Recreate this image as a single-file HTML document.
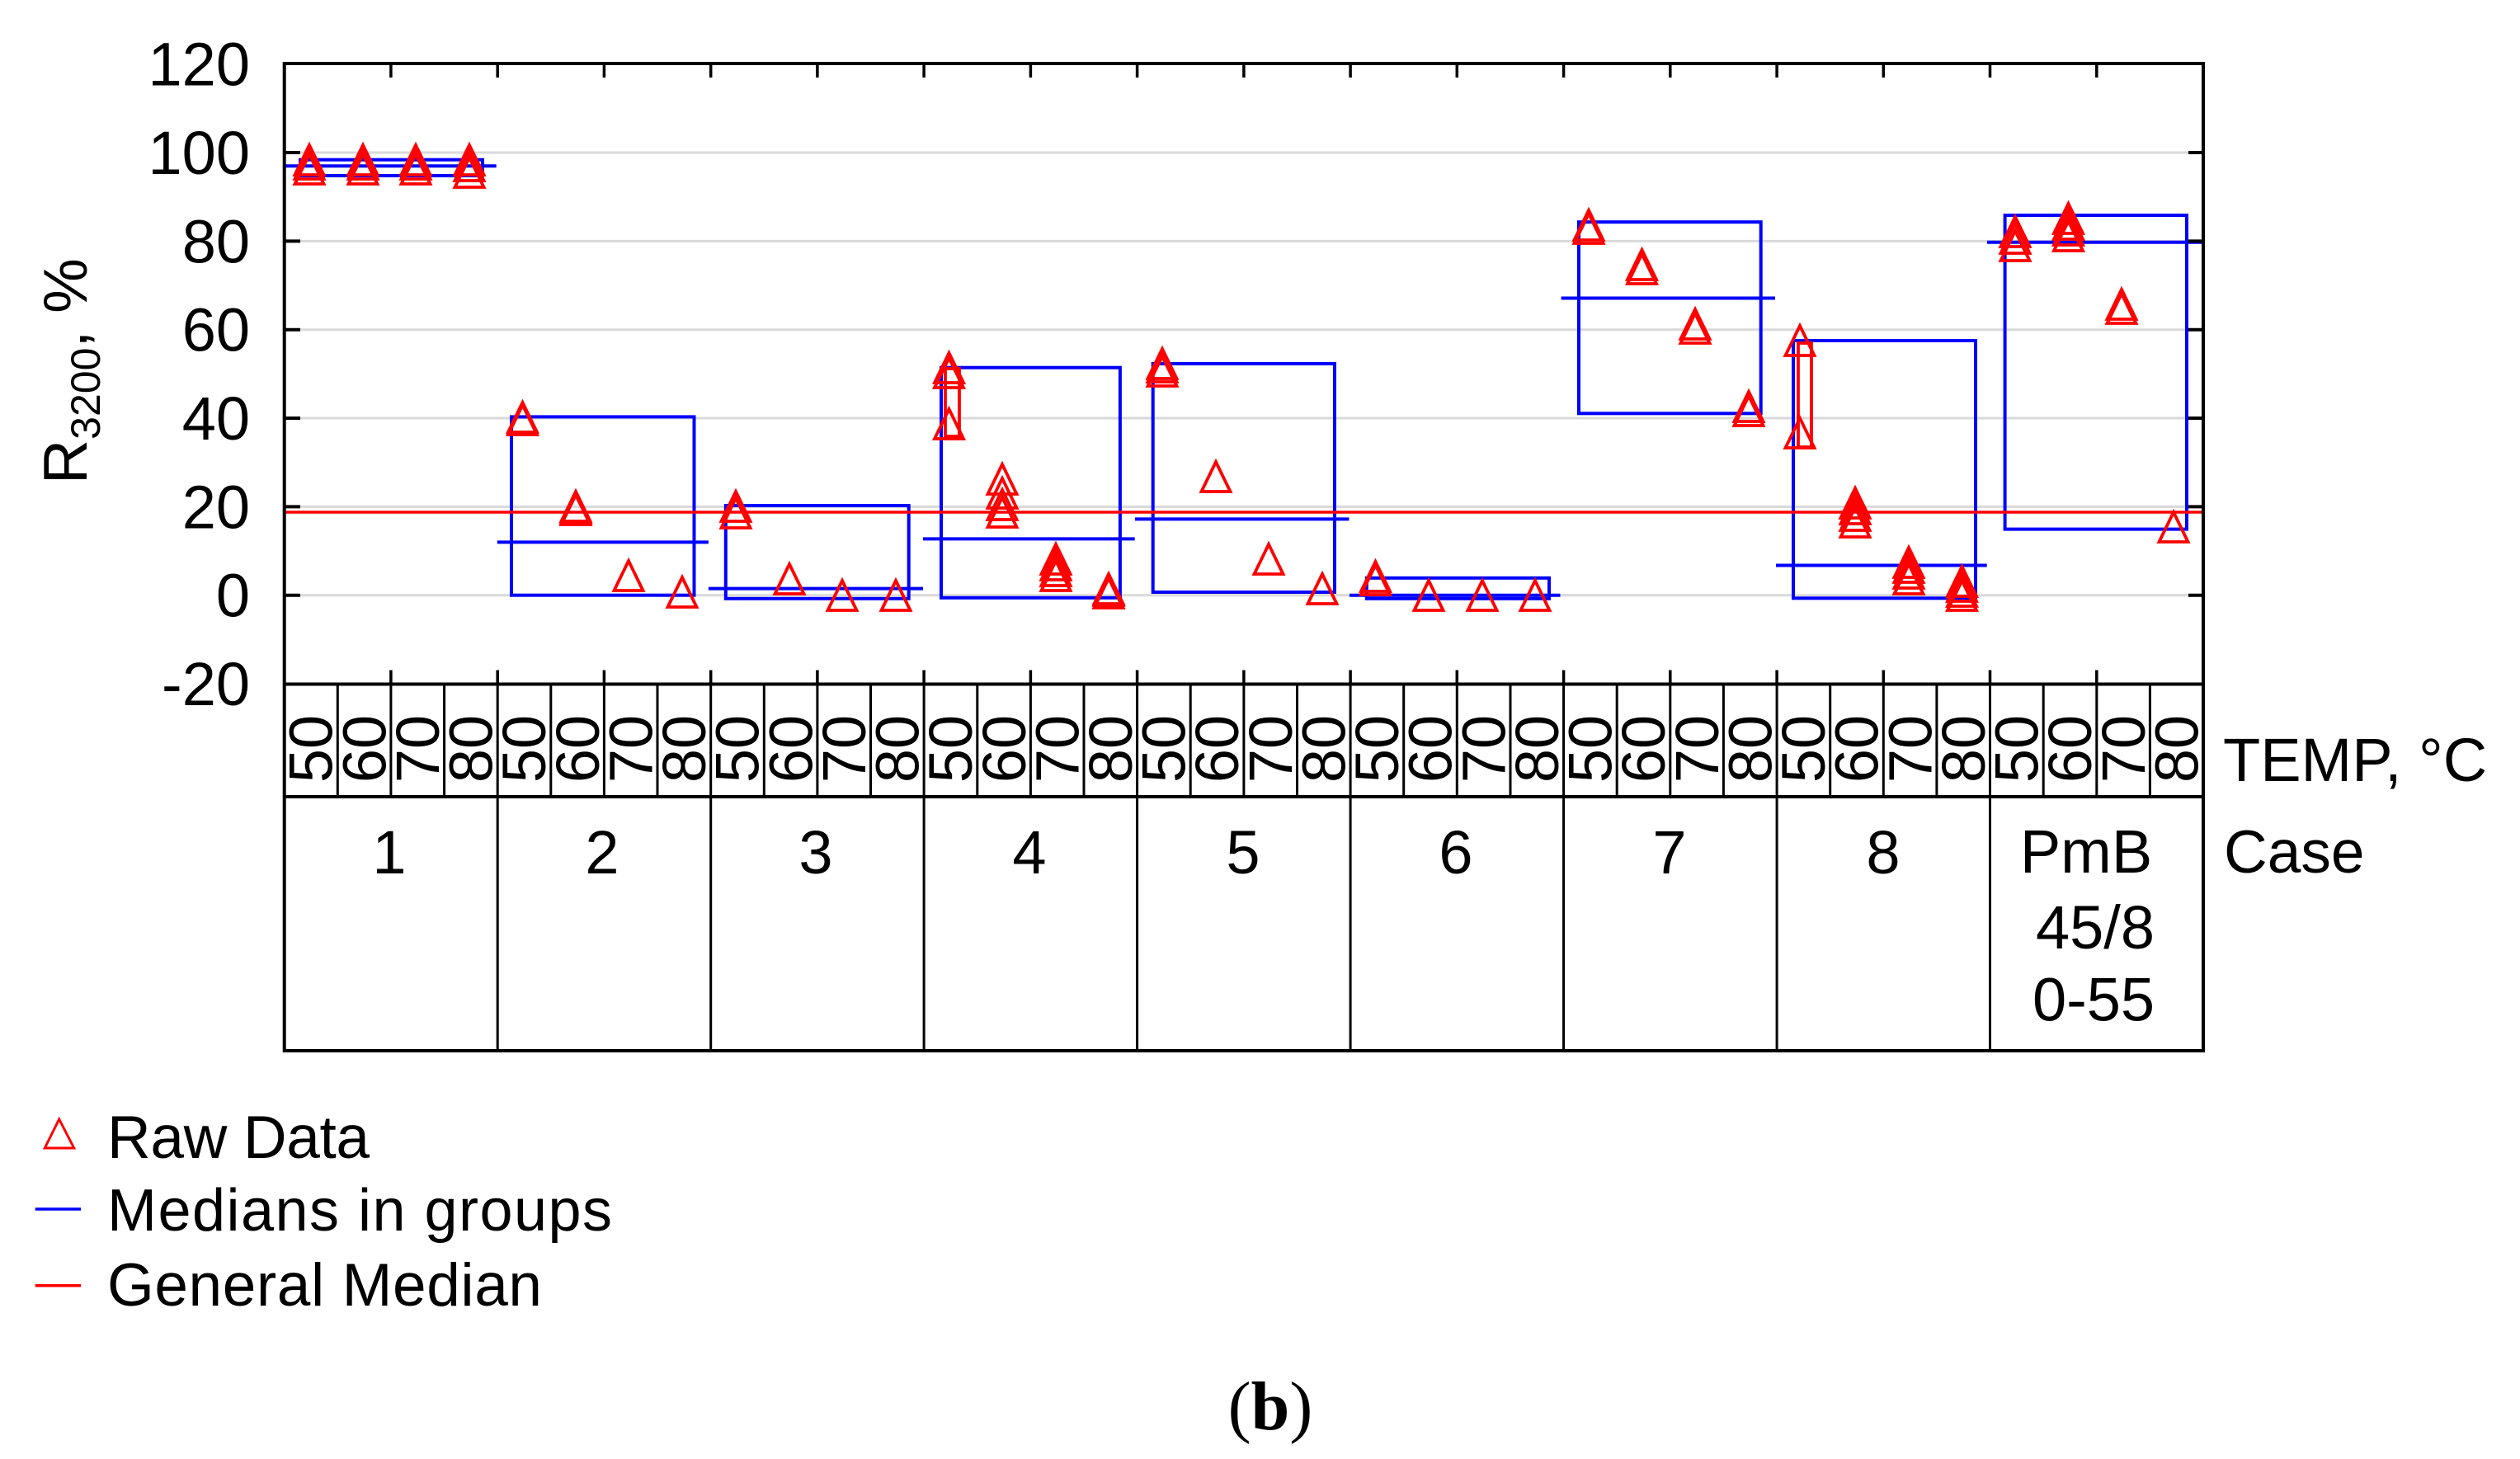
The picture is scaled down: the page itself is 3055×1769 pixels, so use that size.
<!DOCTYPE html>
<html>
<head>
<meta charset="utf-8">
<style>
html,body{margin:0;padding:0;background:#fff;}
svg{display:block;}
text{font-family:"Liberation Sans",Arial,sans-serif;fill:#000;}
</style>
</head>
<body>
<svg width="3055" height="1769" viewBox="0 0 3055 1769" xmlns="http://www.w3.org/2000/svg">
<rect x="0" y="0" width="3055" height="1769" fill="#fff"/>

<!-- gridlines -->
<g stroke="#d9d9d9" stroke-width="3">
<line x1="345" y1="185" x2="2670" y2="185"/>
<line x1="345" y1="292.4" x2="2670" y2="292.4"/>
<line x1="345" y1="399.7" x2="2670" y2="399.7"/>
<line x1="345" y1="507" x2="2670" y2="507"/>
<line x1="345" y1="614.4" x2="2670" y2="614.4"/>
<line x1="345" y1="721.7" x2="2670" y2="721.7"/>
</g>

<!-- group boxes -->
<g stroke="#0000ff" stroke-width="4" fill="none">
<rect x="364" y="193.7" width="221" height="19.3"/>
<rect x="620" y="505.4" width="221.5" height="216.3"/>
<rect x="879.8" y="613" width="221.9" height="112.8"/>
<rect x="1141" y="445.7" width="216.9" height="279.1"/>
<rect x="1397.7" y="441" width="220.3" height="277"/>
<rect x="1656.8" y="700.8" width="221.2" height="25"/>
<rect x="1914" y="269.2" width="220.7" height="232.1"/>
<rect x="2174" y="413" width="221" height="312.3"/>
<rect x="2430.6" y="261" width="220.4" height="380.6"/>
<!-- medians -->
<line x1="345" y1="201.3" x2="601.7" y2="201.3"/>
<line x1="602.8" y1="657.4" x2="858.9" y2="657.4"/>
<line x1="858.9" y1="713.6" x2="1119" y2="713.6"/>
<line x1="1119" y1="653.4" x2="1375.7" y2="653.4"/>
<line x1="1376" y1="629.4" x2="1635.4" y2="629.4"/>
<line x1="1636" y1="721.7" x2="1891.5" y2="721.7"/>
<line x1="1892.6" y1="361.5" x2="2152" y2="361.5"/>
<line x1="2153" y1="685.5" x2="2408.7" y2="685.5"/>
<line x1="2409" y1="293.7" x2="2670" y2="293.7"/>
</g>

<!-- general median -->
<line x1="345" y1="621" x2="2670" y2="621" stroke="#ff0000" stroke-width="3.5"/>

<!-- raw data triangles -->
<g stroke="#ff0000" stroke-width="3.8" fill="none" stroke-linejoin="miter">
<!-- G1 -->
<path d="M375 176 l17.5 36 h-35z"/><path d="M375 181 l17.5 36 h-35z"/><path d="M375 187 l17.5 36 h-35z"/>
<path d="M440 176 l17.5 36 h-35z"/><path d="M440 181 l17.5 36 h-35z"/><path d="M440 187 l17.5 36 h-35z"/>
<path d="M504 176 l17.5 36 h-35z"/><path d="M504 181 l17.5 36 h-35z"/><path d="M504 187 l17.5 36 h-35z"/>
<path d="M569 176 l17.5 36 h-35z"/><path d="M569 183 l17.5 36 h-35z"/><path d="M569 191 l17.5 36 h-35z"/>
<!-- G2 -->
<path d="M633.5 488 l17.5 36 h-35z"/><path d="M633.5 491 l17.5 36 h-35z"/>
<path d="M698 596 l17.5 36 h-35z"/><path d="M698 598 l17.5 36 h-35z"/><path d="M698 600 l17.5 36 h-35z"/>
<path d="M762 680 l17.5 36 h-35z"/>
<path d="M827 700 l17.5 36 h-35z"/>
<!-- G3 -->
<path d="M892 596 l17.5 36 h-35z"/><path d="M892 604 l17.5 36 h-35z"/>
<path d="M957 684 l17.5 36 h-35z"/>
<path d="M1021 704 l17.5 36 h-35z"/>
<path d="M1086 704 l17.5 36 h-35z"/>
<!-- G4 -->
<path d="M1150.5 428 l17.5 36 h-35z"/><path d="M1150.5 434 l17.5 36 h-35z"/><path d="M1150.5 496 l17.5 36 h-35z"/>
<rect x="1146" y="447" width="17" height="82"/>
<path d="M1215 563 l17.5 36 h-35z"/><path d="M1215 580 l17.5 36 h-35z"/><path d="M1215 594 l17.5 36 h-35z"/><path d="M1215 603 l17.5 36 h-35z"/>
<path d="M1280 660 l17.5 36 h-35z"/><path d="M1280 667 l17.5 36 h-35z"/><path d="M1280 674 l17.5 36 h-35z"/><path d="M1280 680 l17.5 36 h-35z"/>
<path d="M1344 696 l17.5 36 h-35z"/><path d="M1344 698 l17.5 36 h-35z"/><path d="M1344 701 l17.5 36 h-35z"/>
<!-- G5 -->
<path d="M1409 423 l17.5 36 h-35z"/><path d="M1409 427 l17.5 36 h-35z"/><path d="M1409 432 l17.5 36 h-35z"/>
<path d="M1474 560 l17.5 36 h-35z"/>
<path d="M1538 660 l17.5 36 h-35z"/>
<path d="M1603 696 l17.5 36 h-35z"/>
<!-- G6 -->
<path d="M1667.5 681 l17.5 36 h-35z"/><path d="M1667.5 685 l17.5 36 h-35z"/>
<path d="M1732 704 l17.5 36 h-35z"/>
<path d="M1797 704 l17.5 36 h-35z"/>
<path d="M1861 704 l17.5 36 h-35z"/>
<!-- G7 -->
<path d="M1926 255 l17.5 36 h-35z"/><path d="M1926 259 l17.5 36 h-35z"/>
<path d="M1990.5 303 l17.5 36 h-35z"/><path d="M1990.5 308 l17.5 36 h-35z"/>
<path d="M2055 375 l17.5 36 h-35z"/><path d="M2055 380 l17.5 36 h-35z"/>
<path d="M2120 475 l17.5 36 h-35z"/><path d="M2120 480 l17.5 36 h-35z"/>
<!-- G8 -->
<path d="M2182 395 l17.5 36 h-35z"/><path d="M2182 507 l17.5 36 h-35z"/>
<rect x="2180" y="416" width="16" height="126"/>
<path d="M2249 592 l17.5 36 h-35z"/><path d="M2249 599 l17.5 36 h-35z"/><path d="M2249 607 l17.5 36 h-35z"/><path d="M2249 615 l17.5 36 h-35z"/>
<path d="M2314 664 l17.5 36 h-35z"/><path d="M2314 670 l17.5 36 h-35z"/><path d="M2314 677 l17.5 36 h-35z"/><path d="M2314 684 l17.5 36 h-35z"/>
<path d="M2378.5 687 l17.5 36 h-35z"/><path d="M2378.5 693 l17.5 36 h-35z"/><path d="M2378.5 699 l17.5 36 h-35z"/><path d="M2378.5 704 l17.5 36 h-35z"/>
<!-- G9 -->
<path d="M2443 263 l17.5 36 h-35z"/><path d="M2443 271 l17.5 36 h-35z"/><path d="M2443 280 l17.5 36 h-35z"/>
<path d="M2507.5 247 l17.5 36 h-35z"/><path d="M2507.5 254 l17.5 36 h-35z"/><path d="M2507.5 261 l17.5 36 h-35z"/><path d="M2507.5 268 l17.5 36 h-35z"/>
<path d="M2572 351 l17.5 36 h-35z"/><path d="M2572 356 l17.5 36 h-35z"/>
<path d="M2635 621 l17.5 36 h-35z"/>
</g>

<!-- axes frame and table -->
<g stroke="#000" stroke-width="4" fill="none">
<line x1="344.7" y1="77" x2="2671" y2="77"/>
<line x1="344.7" y1="829.5" x2="2671" y2="829.5"/>
<line x1="344.7" y1="75" x2="344.7" y2="1276"/>
<line x1="2671" y1="75" x2="2671" y2="1276"/>
<line x1="344.7" y1="966" x2="2671" y2="966"/>
<line x1="344.7" y1="1274" x2="2671" y2="1274"/>
<!-- y ticks left -->
<line x1="344.7" y1="185" x2="364" y2="185"/>
<line x1="344.7" y1="292.4" x2="364" y2="292.4"/>
<line x1="344.7" y1="399.7" x2="364" y2="399.7"/>
<line x1="344.7" y1="507" x2="364" y2="507"/>
<line x1="344.7" y1="614.4" x2="364" y2="614.4"/>
<line x1="344.7" y1="721.7" x2="364" y2="721.7"/>
<!-- y ticks right -->
<line x1="2653" y1="185" x2="2671" y2="185"/>
<line x1="2653" y1="292.4" x2="2671" y2="292.4"/>
<line x1="2653" y1="399.7" x2="2671" y2="399.7"/>
<line x1="2653" y1="507" x2="2671" y2="507"/>
<line x1="2653" y1="614.4" x2="2671" y2="614.4"/>
<line x1="2653" y1="721.7" x2="2671" y2="721.7"/>
</g>

<!-- top & bottom ticks -->
<g stroke="#000" stroke-width="3.5">
<path d="M473.9 77v17M603.2 77v17M732.4 77v17M861.7 77v17M990.9 77v17M1120.1 77v17M1249.4 77v17M1378.6 77v17M1507.9 77v17M1637.1 77v17M1766.3 77v17M1895.6 77v17M2024.8 77v17M2154.1 77v17M2283.3 77v17M2412.5 77v17M2541.8 77v17"/>
<path d="M473.9 829.5v-17M603.2 829.5v-17M732.4 829.5v-17M861.7 829.5v-17M990.9 829.5v-17M1120.1 829.5v-17M1249.4 829.5v-17M1378.6 829.5v-17M1507.9 829.5v-17M1637.1 829.5v-17M1766.3 829.5v-17M1895.6 829.5v-17M2024.8 829.5v-17M2154.1 829.5v-17M2283.3 829.5v-17M2412.5 829.5v-17M2541.8 829.5v-17"/>
</g>
<!-- temp row cell lines -->
<g stroke="#000" stroke-width="3">
<path d="M409.3 829v137M473.9 829v137M538.6 829v137M667.8 829v137M732.4 829v137M797 829v137M926.3 829v137M990.9 829v137M1055.5 829v137M1184.8 829v137M1249.4 829v137M1314 829v137M1443.2 829v137M1507.9 829v137M1572.5 829v137M1701.7 829v137M1766.3 829v137M1831 829v137M1960.2 829v137M2024.8 829v137M2089.4 829v137M2218.7 829v137M2283.3 829v137M2347.9 829v137M2477.2 829v137M2541.8 829v137M2606.4 829v137"/>
<path d="M603.2 829v445M861.7 829v445M1120.1 829v445M1378.6 829v445M1637.1 829v445M1895.6 829v445M2154.1 829v445M2412.5 829v445"/>
</g>

<!-- y tick labels -->
<g font-size="74" text-anchor="end">
<text x="303" y="103.7">120</text>
<text x="303" y="211">100</text>
<text x="303" y="318.4">80</text>
<text x="303" y="425.7">60</text>
<text x="303" y="533">40</text>
<text x="303" y="640.4">20</text>
<text x="303" y="747.7">0</text>
<text x="303" y="855">-20</text>
</g>

<!-- y axis title -->
<text font-size="75" transform="translate(105,587) rotate(-90)">R<tspan font-size="50" dy="16">3200</tspan><tspan dy="-16">, %</tspan></text>

<!-- temp labels (rotated) -->
<g font-size="74" text-anchor="middle">
<text x="402.7" y="908" transform="rotate(-90 402.7 908)">50</text>
<text x="467.3" y="908" transform="rotate(-90 467.3 908)">60</text>
<text x="531.9" y="908" transform="rotate(-90 531.9 908)">70</text>
<text x="596.6" y="908" transform="rotate(-90 596.6 908)">80</text>
<text x="661.2" y="908" transform="rotate(-90 661.2 908)">50</text>
<text x="725.8" y="908" transform="rotate(-90 725.8 908)">60</text>
<text x="790.4" y="908" transform="rotate(-90 790.4 908)">70</text>
<text x="855" y="908" transform="rotate(-90 855 908)">80</text>
<text x="919.7" y="908" transform="rotate(-90 919.7 908)">50</text>
<text x="984.3" y="908" transform="rotate(-90 984.3 908)">60</text>
<text x="1048.9" y="908" transform="rotate(-90 1048.9 908)">70</text>
<text x="1113.5" y="908" transform="rotate(-90 1113.5 908)">80</text>
<text x="1178.1" y="908" transform="rotate(-90 1178.1 908)">50</text>
<text x="1242.8" y="908" transform="rotate(-90 1242.8 908)">60</text>
<text x="1307.4" y="908" transform="rotate(-90 1307.4 908)">70</text>
<text x="1372" y="908" transform="rotate(-90 1372 908)">80</text>
<text x="1436.6" y="908" transform="rotate(-90 1436.6 908)">50</text>
<text x="1501.2" y="908" transform="rotate(-90 1501.2 908)">60</text>
<text x="1565.9" y="908" transform="rotate(-90 1565.9 908)">70</text>
<text x="1630.5" y="908" transform="rotate(-90 1630.5 908)">80</text>
<text x="1695.1" y="908" transform="rotate(-90 1695.1 908)">50</text>
<text x="1759.7" y="908" transform="rotate(-90 1759.7 908)">60</text>
<text x="1824.3" y="908" transform="rotate(-90 1824.3 908)">70</text>
<text x="1889" y="908" transform="rotate(-90 1889 908)">80</text>
<text x="1953.6" y="908" transform="rotate(-90 1953.6 908)">50</text>
<text x="2018.2" y="908" transform="rotate(-90 2018.2 908)">60</text>
<text x="2082.8" y="908" transform="rotate(-90 2082.8 908)">70</text>
<text x="2147.4" y="908" transform="rotate(-90 2147.4 908)">80</text>
<text x="2212.1" y="908" transform="rotate(-90 2212.1 908)">50</text>
<text x="2276.7" y="908" transform="rotate(-90 2276.7 908)">60</text>
<text x="2341.3" y="908" transform="rotate(-90 2341.3 908)">70</text>
<text x="2405.9" y="908" transform="rotate(-90 2405.9 908)">80</text>
<text x="2470.5" y="908" transform="rotate(-90 2470.5 908)">50</text>
<text x="2535.2" y="908" transform="rotate(-90 2535.2 908)">60</text>
<text x="2599.8" y="908" transform="rotate(-90 2599.8 908)">70</text>
<text x="2664.4" y="908" transform="rotate(-90 2664.4 908)">80</text>
</g>

<!-- case labels -->
<g font-size="74" text-anchor="middle">
<text x="472" y="1059">1</text>
<text x="730" y="1059">2</text>
<text x="989" y="1059">3</text>
<text x="1248" y="1059">4</text>
<text x="1507" y="1059">5</text>
<text x="1765" y="1059">6</text>
<text x="2024" y="1059">7</text>
<text x="2283" y="1059">8</text>
<text x="2529" y="1058">PmB</text>
<text x="2540" y="1150">45/8</text>
<text x="2538" y="1237.5">0-55</text>
</g>

<text x="2695" y="947" font-size="74">TEMP, °C</text>
<text x="2696" y="1058" font-size="73">Case</text>

<!-- legend -->
<path d="M71.7 1357 L89.7 1392 L54.3 1392 Z" fill="none" stroke="#ff0000" stroke-width="3"/>
<line x1="42.7" y1="1466" x2="98" y2="1466" stroke="#0000ff" stroke-width="3.5"/>
<line x1="42.7" y1="1558.7" x2="98" y2="1558.7" stroke="#ff0000" stroke-width="3.5"/>
<text x="130" y="1404" font-size="73" textLength="318">Raw Data</text>
<text x="130" y="1492" font-size="72" textLength="612">Medians in groups</text>
<text x="130" y="1583" font-size="73" textLength="527">General Median</text>

<!-- caption -->
<text x="1540" y="1733" text-anchor="middle" font-size="84" style="font-family:'Liberation Serif','Times New Roman',serif;">(<tspan font-weight="bold">b</tspan>)</text>
</svg>
</body>
</html>
